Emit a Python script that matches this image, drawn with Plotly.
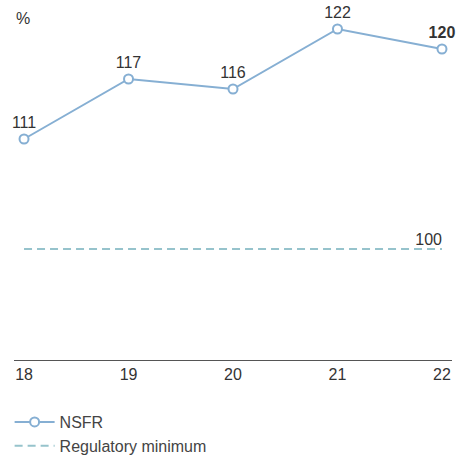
import plotly.graph_objects as go

years = [18, 19, 20, 21, 22]
year_labels = ["18", "19", "20", "21", "22"]
nsfr = [111, 117, 116, 122, 120]
nsfr_labels = ["111", "117", "116", "122", "<b>120</b>"]
reg_min = 100

font_family = "Liberation Sans, Arial, sans-serif"
text_color = "#333333"
nsfr_color = "#86afd3"
reg_color = "#96c3cc"

fig = go.Figure()

fig.add_trace(go.Scatter(
    x=years,
    y=nsfr,
    mode="lines+markers+text",
    name="NSFR",
    line=dict(color=nsfr_color, width=2),
    marker=dict(symbol="circle", size=9, color="white",
                line=dict(color=nsfr_color, width=2)),
    text=nsfr_labels,
    textposition="top center",
    textfont=dict(family=font_family, size=16, color=text_color),
    cliponaxis=False,
))

fig.add_trace(go.Scatter(
    x=[years[0], years[-1]],
    y=[reg_min, reg_min],
    mode="lines+text",
    name="Regulatory minimum",
    line=dict(color=reg_color, width=2, dash="8px,5px"),
    text=["", str(reg_min)],
    textposition="top left",
    textfont=dict(family=font_family, size=16, color=text_color),
    cliponaxis=False,
))

fig.update_layout(
    width=457,
    height=456,
    margin=dict(l=14, r=5, t=0, b=96, autoexpand=False),
    paper_bgcolor="white",
    plot_bgcolor="white",
    font=dict(family=font_family, size=16, color=text_color),
    showlegend=True,
    legend=dict(
        orientation="v",
        x=-0.01, xanchor="left",
        y=-0.125, yanchor="top",
        font=dict(family=font_family, size=16, color="#444444"),
        itemwidth=40,
        tracegroupgap=0,
        bgcolor="rgba(0,0,0,0)",
    ),
    xaxis=dict(
        range=[17.904, 22.096],
        tickmode="array",
        tickvals=years,
        ticktext=year_labels,
        showgrid=False,
        zeroline=False,
        showline=True,
        linecolor="#555555",
        linewidth=1,
        ticks="",
        tickfont=dict(family=font_family, size=16, color=text_color),
        fixedrange=True,
    ),
    yaxis=dict(
        range=[88.9, 124.9],
        showgrid=False,
        zeroline=False,
        showline=False,
        showticklabels=False,
        ticks="",
        fixedrange=True,
    ),
    annotations=[
        dict(
            text="%",
            xref="paper", yref="paper",
            x=0.0, y=1.0,
            xanchor="left", yanchor="top",
            yshift=-8,
            showarrow=False,
            font=dict(family=font_family, size=16, color=text_color),
        )
    ],
)

fig.write_html("out.html")
